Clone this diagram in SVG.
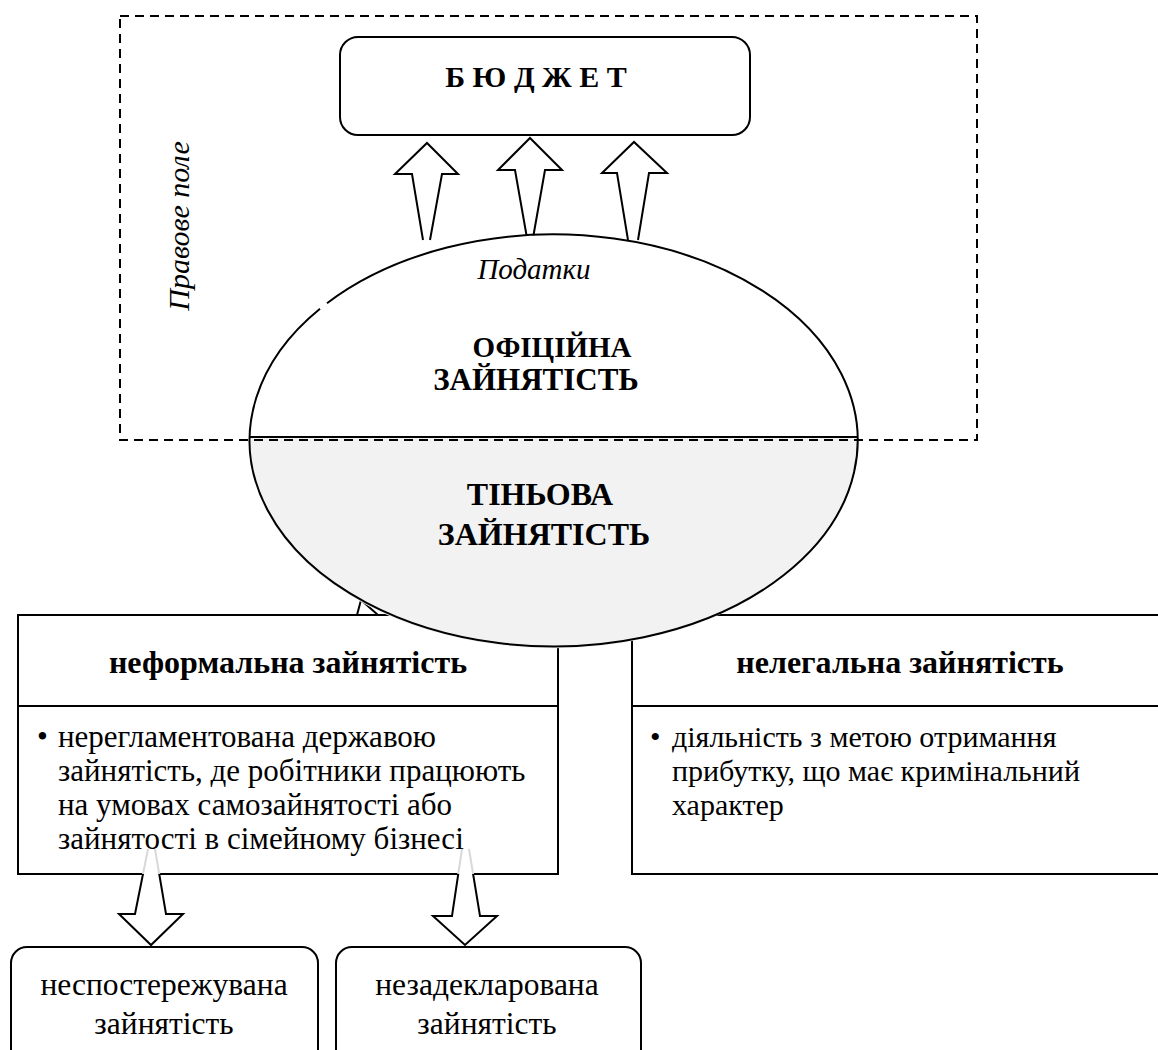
<svg xmlns="http://www.w3.org/2000/svg" width="1158" height="1050" viewBox="0 0 1158 1050">
  <style>
    text { font-family: "Liberation Serif", "Times New Roman", "DejaVu Serif", serif; fill: #000; }
    .b { font-weight: bold; }
    .i { font-style: italic; }
    .box { fill: #fff; stroke: #000; stroke-width: 2; }
    .ln { fill: none; stroke: #000; stroke-width: 2; }
    .arrow { fill: #fff; stroke: #000; stroke-width: 2; stroke-linejoin: miter; }
  </style>
  <defs>
    <clipPath id="belowBox"><rect x="0" y="874" width="1158" height="200"/></clipPath>
    <clipPath id="insideBox"><rect x="0" y="700" width="1158" height="174"/></clipPath>
    <polyline id="downA" points="148,849 135,914 119,914 151,945 183,914 166,914 155,849"/>
    <polyline id="downB" points="462,849 452,916 433,916 465,945 497,916 480,916 469,849"/>
  </defs>

  <rect width="1158" height="1050" fill="#fff"/>

  <!-- informal employment -->
  <g id="informal">
    <rect class="box" x="18" y="615" width="540" height="259"/>
    <line class="ln" x1="18" y1="706" x2="558" y2="706"/>
    <text class="b" x="288" y="673" font-size="32" text-anchor="middle">неформальна зайнятість</text>
  </g>

  <!-- illegal employment -->
  <g id="illegal">
    <rect class="box" x="632" y="615" width="540" height="259"/>
    <line class="ln" x1="632" y1="706" x2="1172" y2="706"/>
    <text class="b" x="900" y="673" font-size="32" text-anchor="middle">нелегальна зайнятість</text>
  </g>

  <g id="connectors">
    <!-- partly hidden arrow tip under the ellipse -->
    <path class="ln" d="M357,615 L361,600 L378,615" stroke-width="1.5"/>
    <!-- taxes flowing up to the budget -->
    <polyline class="arrow" points="423,240 412,174 395,174 427,143 458,174 442,174 430,240"/>
    <polyline class="arrow" points="527,238 515,170 498,170 530,138 562,170 545,170 533,238"/>
    <polyline class="arrow" points="628,240 617,173 602,173 634,142 667,173 649,173 638,240"/>
  </g>

  <!-- employment ellipse: official above, shadow below -->
  <g id="employment">
    <ellipse cx="553" cy="441" rx="304" ry="206" fill="#fff"/>
    <path d="M249.1,437 A304,206 0 1 0 856.9,437 Z" fill="#f2f2f2"/>
    <line class="ln" x1="249" y1="437" x2="857" y2="437"/>
    <path class="ln" d="M327,303.2 A304,206 0 1 1 320,308.7"/>
    <text class="i" x="534" y="279" font-size="29" text-anchor="middle">Податки</text>
    <text class="b" x="552" y="357" font-size="29" text-anchor="middle">ОФІЦІЙНА</text>
    <text class="b" x="536" y="390" font-size="31" text-anchor="middle">ЗАЙНЯТІСТЬ</text>
    <text class="b" x="540" y="505" font-size="32" text-anchor="middle">ТІНЬОВА</text>
    <text class="b" x="544" y="545" font-size="32" text-anchor="middle">ЗАЙНЯТІСТЬ</text>
  </g>

  <!-- legal field -->
  <g id="legal-field">
    <rect x="120" y="16" width="857" height="424" fill="none" stroke="#000" stroke-width="2" stroke-dasharray="9 6"/>
    <text class="i" transform="translate(189,226) rotate(-90)" font-size="30" text-anchor="middle">Правове поле</text>
  </g>

  <!-- budget -->
  <g id="budget">
    <rect class="box" x="340" y="37" width="410" height="98" rx="18"/>
    <text class="b" x="536" y="87" font-size="30" text-anchor="middle">Б Ю Д Ж Е Т</text>
  </g>

  <!-- body texts of the two employment boxes -->
  <g id="informal-text" font-size="31">
    <text x="37" y="747">•</text>
    <text x="58" y="747">нерегламентована державою</text>
    <text x="58" y="781">зайнятість, де робітники працюють</text>
    <text x="58" y="815">на умовах самозайнятості або</text>
    <text x="58" y="849">зайнятості в сімейному бізнесі</text>
  </g>
  <g id="illegal-text" font-size="30">
    <text x="650" y="747">•</text>
    <text x="672" y="747">діяльність з метою отримання</text>
    <text x="672" y="781">прибутку, що має кримінальний</text>
    <text x="672" y="815">характер</text>
  </g>

  <g id="down-connectors">
    <use href="#downA" class="arrow" style="stroke:#d8d8d8" fill="none" clip-path="url(#insideBox)"/>
    <use href="#downB" class="arrow" style="stroke:#d8d8d8" fill="none" clip-path="url(#insideBox)"/>
    <use href="#downA" class="arrow" clip-path="url(#belowBox)"/>
    <use href="#downB" class="arrow" clip-path="url(#belowBox)"/>
  </g>

  <g id="unobserved">
    <rect class="box" x="11" y="947" width="307" height="120" rx="16"/>
    <text x="164" y="995" font-size="31.5" text-anchor="middle">неспостережувана</text>
    <text x="164" y="1034" font-size="31.5" text-anchor="middle">зайнятість</text>
  </g>
  <g id="undeclared">
    <rect class="box" x="336" y="947" width="305" height="120" rx="16"/>
    <text x="487" y="995" font-size="31.5" text-anchor="middle">незадекларована</text>
    <text x="487" y="1034" font-size="31.5" text-anchor="middle">зайнятість</text>
  </g>
</svg>
